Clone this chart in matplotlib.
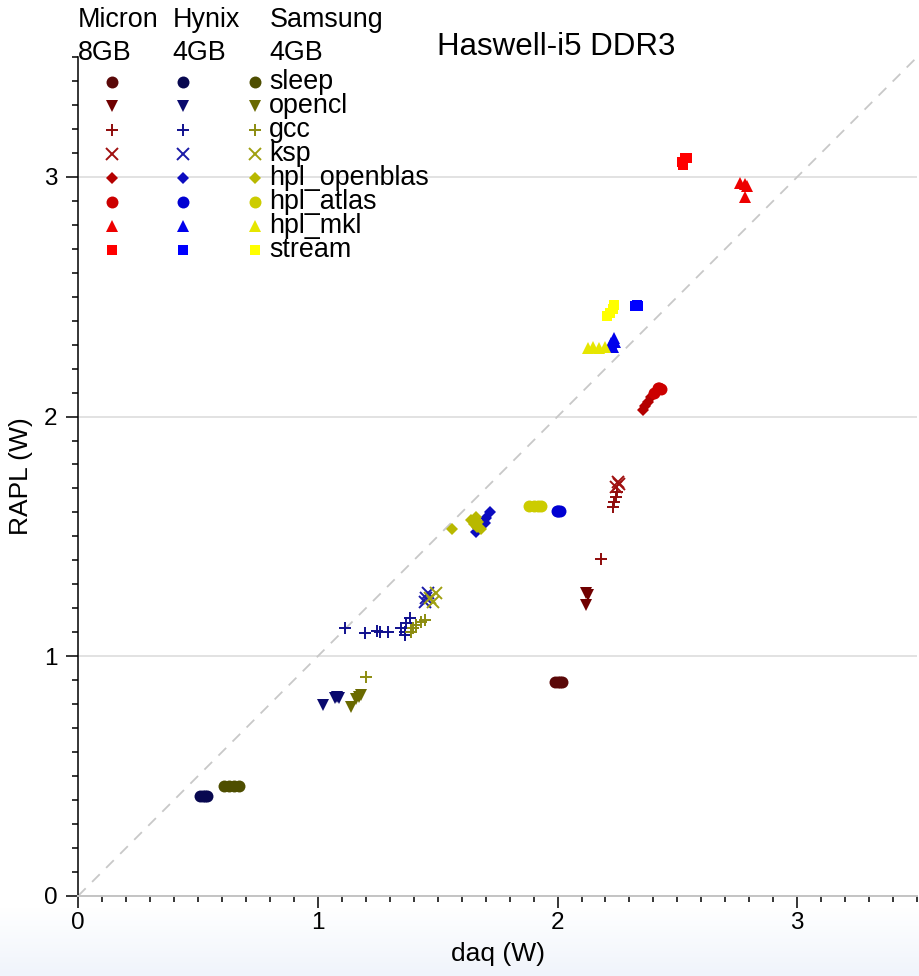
import matplotlib
matplotlib.use("Agg")
import matplotlib.pyplot as plt
import numpy as np
from matplotlib.colors import LinearSegmentedColormap
from matplotlib.ticker import MultipleLocator

plt.rcParams["font.family"] = ["Liberation Sans", "DejaVu Sans"]

benchmarks = ["sleep", "opencl", "gcc", "ksp", "hpl_openblas", "hpl_atlas", "hpl_mkl", "stream"]
markers = ["o", "v", "+", "x", "D", "o", "^", "s"]
vendors = ["Micron\n8GB", "Hynix\n4GB", "Samsung\n4GB"]

micron_colors = ["#5a0808", "#700000", "#8e0a0a", "#a01010", "#b40000", "#cc0000", "#ee0000", "#ff0000"]
hynix_colors = ["#080850", "#0a0a6e", "#10108e", "#1a1aa8", "#0c0cc0", "#0000d2", "#0000ec", "#0000ff"]
samsung_colors = ["#4e4e00", "#6a6a00", "#8c8c10", "#a0a010", "#b8b800", "#cccc00", "#e6e600", "#ffff00"]

# daq (W) / RAPL (W) readings per benchmark
micron_daq = {
    "sleep": [1.99, 2.00, 2.01, 2.02],
    "opencl": [2.117, 2.126, 2.117],
    "gcc": [2.18, 2.23, 2.237, 2.242, 2.247],
    "ksp": [2.245, 2.251, 2.255],
    "hpl_openblas": [2.355, 2.365, 2.376, 2.39],
    "hpl_atlas": [2.404, 2.418, 2.425, 2.43],
    "hpl_mkl": [2.76, 2.78, 2.79, 2.78],
    "stream": [2.52, 2.53, 2.54, 2.525],
}
micron_rapl = {
    "sleep": [0.893, 0.893, 0.893, 0.893],
    "opencl": [1.263, 1.256, 1.214],
    "gcc": [1.406, 1.624, 1.645, 1.666, 1.687],
    "ksp": [1.707, 1.728, 1.72],
    "hpl_openblas": [2.027, 2.045, 2.062, 2.083],
    "hpl_atlas": [2.098, 2.118, 2.12, 2.115],
    "hpl_mkl": [2.975, 2.97, 2.96, 2.917],
    "stream": [3.06, 3.08, 3.08, 3.05],
}
hynix_daq = {
    "sleep": [0.51, 0.52, 0.53, 0.54],
    "opencl": [1.02, 1.07, 1.08, 1.09],
    "gcc": [1.1125, 1.196, 1.245, 1.258, 1.293, 1.349, 1.3625, 1.37, 1.383, 1.3625],
    "ksp": [1.446, 1.453, 1.46],
    "hpl_openblas": [1.66, 1.67, 1.696, 1.703, 1.717],
    "hpl_atlas": [1.996, 2.003, 2.01],
    "hpl_mkl": [2.224, 2.23, 2.237, 2.24],
    "stream": [2.325, 2.33, 2.335],
}
hynix_rapl = {
    "sleep": [0.417, 0.417, 0.417, 0.417],
    "opencl": [0.797, 0.826, 0.83, 0.826],
    "gcc": [1.117, 1.098, 1.105, 1.10, 1.10, 1.117, 1.10, 1.14, 1.158, 1.09],
    "ksp": [1.228, 1.242, 1.262],
    "hpl_openblas": [1.52, 1.535, 1.556, 1.575, 1.603],
    "hpl_atlas": [1.606, 1.606, 1.606],
    "hpl_mkl": [2.306, 2.29, 2.326, 2.31],
    "stream": [2.46, 2.465, 2.46],
}
samsung_daq = {
    "sleep": [0.61, 0.63, 0.65, 0.67],
    "opencl": [1.14, 1.16, 1.17, 1.18],
    "gcc": [1.203, 1.39, 1.397, 1.41, 1.43, 1.446],
    "ksp": [1.467, 1.48, 1.494],
    "hpl_openblas": [1.561, 1.64, 1.65, 1.66, 1.67, 1.68, 1.665],
    "hpl_atlas": [1.88, 1.90, 1.92, 1.93],
    "hpl_mkl": [2.126, 2.147, 2.175, 2.196],
    "stream": [2.205, 2.217, 2.23, 2.237],
}
samsung_rapl = {
    "sleep": [0.46, 0.46, 0.46, 0.46],
    "opencl": [0.79, 0.82, 0.83, 0.84],
    "gcc": [0.912, 1.10, 1.117, 1.13, 1.144, 1.15],
    "ksp": [1.242, 1.228, 1.262],
    "hpl_openblas": [1.53, 1.57, 1.55, 1.58, 1.56, 1.53, 1.54],
    "hpl_atlas": [1.627, 1.627, 1.627, 1.627],
    "hpl_mkl": [2.285, 2.29, 2.285, 2.29],
    "stream": [2.42, 2.432, 2.45, 2.466],
}

series = [
    (micron_daq, micron_rapl, micron_colors),
    (hynix_daq, hynix_rapl, hynix_colors),
    (samsung_daq, samsung_rapl, samsung_colors),
]


def _marker_style(m):
    # sizes tuned so every glyph is ~11-12 px across
    if m == "D":
        return dict(markersize=6.4, markeredgewidth=0)
    if m in ("+", "x"):
        return dict(markersize=8.6, markeredgewidth=1.4)
    if m == "s":
        return dict(markersize=7.8, markeredgewidth=0)
    if m in ("v", "^"):
        return dict(markersize=8.8, markeredgewidth=0)
    return dict(markersize=8.6, markeredgewidth=0)


fig = plt.figure(figsize=(9.19, 9.76), dpi=100)

# faint bluish fade at the very bottom (screenshot backdrop)
bg = fig.add_axes([0, 0, 1, 0.07], zorder=-5)
grad = np.linspace(0, 1, 100)[:, None]
bg.imshow(grad, aspect="auto", origin="lower", extent=[0, 1, 0, 1],
          cmap=LinearSegmentedColormap.from_list("fade", ["#f0f4fb", "#ffffff"]))
bg.axis("off")

ax = fig.add_axes([0.0849, 0.0820, 0.9131, 0.8596])
ax.set_facecolor("none")
ax.set_xlim(0, 3.5)
ax.set_ylim(0, 3.5)

ax.plot([0, 3.5], [0, 3.5], color="#c8c8c8", lw=1.3, ls=(0, (6, 5)), zorder=1)

for daq, rapl, colors in series:
    for bench, m, c in zip(benchmarks, markers, colors):
        ax.plot(daq[bench], rapl[bench], ls="none", marker=m, color=c, zorder=3,
                **_marker_style(m))

# manual legend grid: one marker column per vendor, labels to the right
col_x = [0.0405, 0.125, 0.211]
row_y0, row_dy = 0.970, 0.0286
for ci, (_, _, colors) in enumerate(series):
    for ri, (m, c) in enumerate(zip(markers, colors)):
        ax.plot([col_x[ci]], [row_y0 - ri * row_dy], ls="none", marker=m, color=c,
                transform=ax.transAxes, clip_on=False, zorder=4, **_marker_style(m))
for ri, bench in enumerate(benchmarks):
    ax.text(0.228, row_y0 - ri * row_dy, bench, transform=ax.transAxes,
            fontsize=19.4, va="center", ha="left")

header_x = [0.0, 0.113, 0.228]
for hx, name in zip(header_x, vendors):
    top, bottom = name.split("\n")
    ax.text(hx, 1.0358, top, transform=ax.transAxes, fontsize=19.4, va="baseline", ha="left")
    ax.text(hx, 0.9964, bottom, transform=ax.transAxes, fontsize=19.4, va="baseline", ha="left")

ax.text(0.570, 1.0024, "Haswell-i5 DDR3", transform=ax.transAxes,
        fontsize=22.5, va="baseline", ha="center")

ax.set_xlabel("daq (W)", fontsize=19, labelpad=6)
ax.set_ylabel("RAPL (W)", fontsize=19, labelpad=8)

ax.xaxis.set_major_locator(MultipleLocator(1))
ax.yaxis.set_major_locator(MultipleLocator(1))
ax.xaxis.set_minor_locator(MultipleLocator(0.1))
ax.yaxis.set_minor_locator(MultipleLocator(0.1))
ax.tick_params(axis="both", which="major", direction="out", length=8.6, width=1.1,
               labelsize=17.5, color="black")
ax.tick_params(axis="both", which="minor", direction="out", length=4.0, width=1.1, color="black")
ax.tick_params(axis="x", which="major", pad=3)
ax.tick_params(axis="y", which="major", pad=6)

ax.grid(axis="y", which="major", color="#e2e2e2", lw=1.4, zorder=0)
ax.set_axisbelow(True)
for side in ("top", "right"):
    ax.spines[side].set_visible(False)
ax.spines["left"].set_color("black")
ax.spines["left"].set_linewidth(1.1)
ax.spines["bottom"].set_color("#c4c4c4")
ax.spines["bottom"].set_linewidth(1.4)

fig.savefig("out.png", dpi=100)
